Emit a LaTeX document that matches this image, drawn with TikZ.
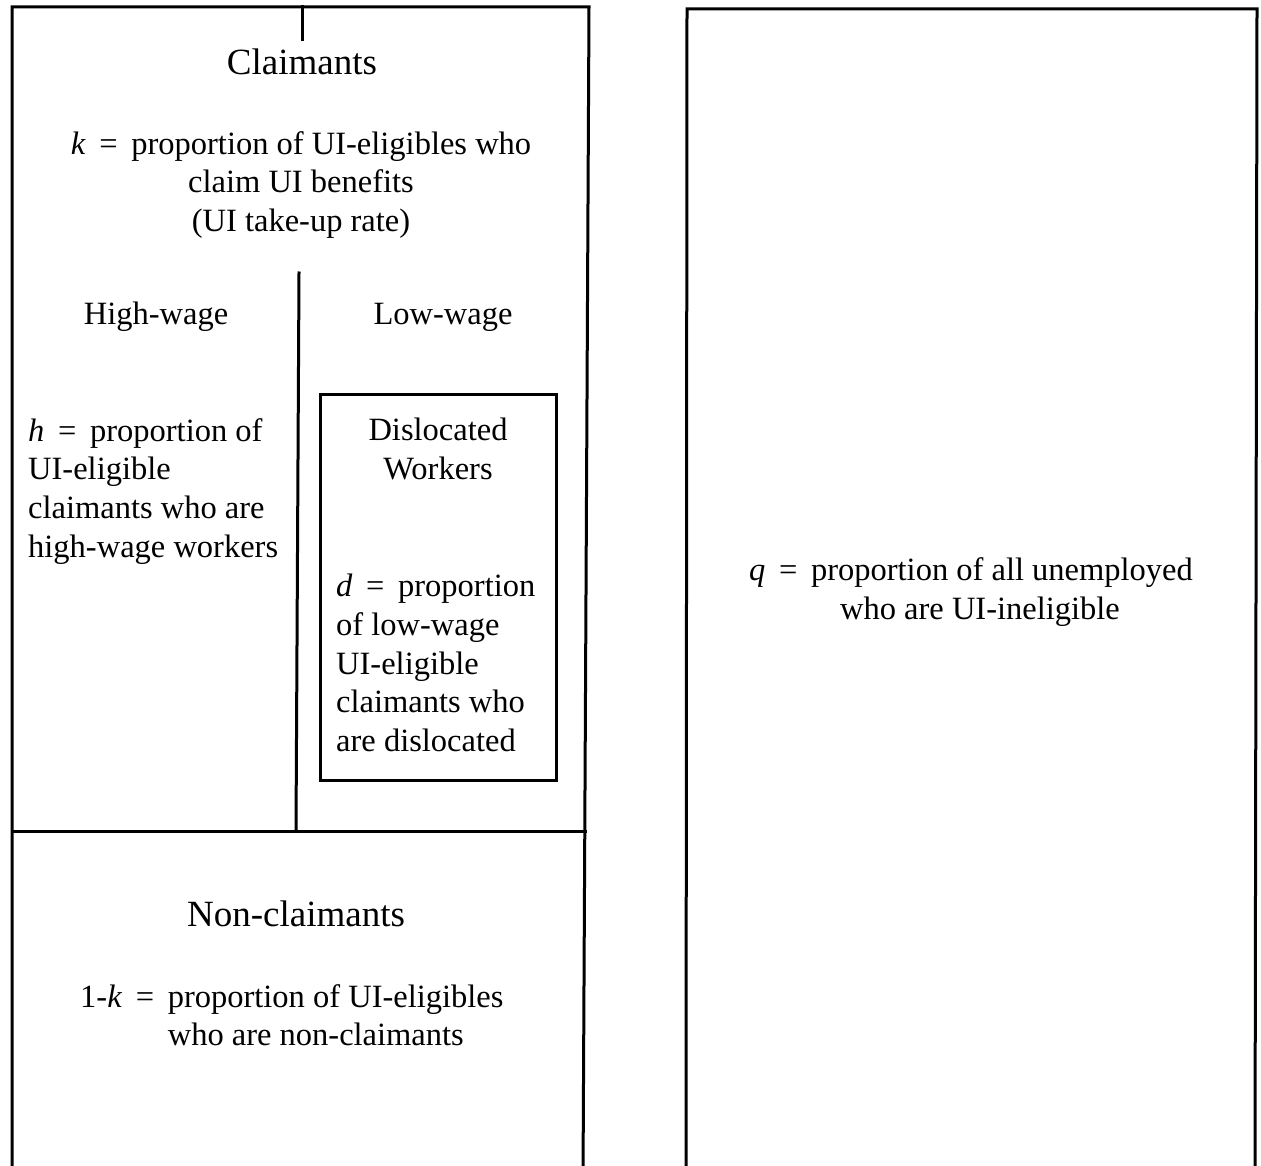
\documentclass[tikz,border=0pt]{standalone}
\usepackage{fontspec}
\setmainfont{Liberation Serif}
\newcommand{\myeq}{\hspace{0.42em}=\hspace{0.42em}}
\begin{document}
\begin{tikzpicture}[x=1pt,y=-1pt,
  frame/.style={line width=3pt,line cap=rect},
  body/.style={font=\fontsize{32.5}{38.7}\selectfont,inner sep=0pt,anchor=base},
  head/.style={font=\fontsize{37}{44}\selectfont,inner sep=0pt,anchor=base}]
\useasboundingbox (0,0) rectangle (1261,1166);
\begin{scope}
\clip (0,0) rectangle (1261,1166);
% left outer box
\draw[frame] (12,1180) -- (12,7) -- (589,7) -- (583,1180);
% tick on top
\draw[frame] (302,7) -- (302,40);
% horizontal divider
\draw[frame] (12,831) -- (585,831);
% vertical divider
\draw[frame] (299,273) -- (296,831);
% dislocated box
\draw[frame] (320,394) rectangle (556,780);
% right box
\draw[frame] (686,1180) -- (687,9) -- (1257,9) -- (1255,1180);
\end{scope}

\node[head] (claim) at (302,75) {Claimants};
\node[body,align=center,anchor=north] (kdef) at (301,131)
  {\textit{k}\myeq proportion of UI-eligibles who\\ claim UI benefits\\ (UI take-up rate)};
\node[body] (hw) at (156,325) {High-wage};
\node[body] (lw) at (443,325) {Low-wage};
\node[body,align=left,anchor=north west] (hdef) at (28,418)
  {\textit{h}\myeq proportion of\\ UI-eligible\\ claimants who are\\ high-wage workers};
\node[body,align=center,anchor=north] (dw) at (438,418) {Dislocated\\ Workers};
\node[body,align=left,anchor=north west] (ddef) at (336,574)
  {\textit{d}\myeq proportion\\ of low-wage\\ UI-eligible\\ claimants who\\ are dislocated};
\node[head] (nonc) at (296,926) {Non-claimants};
\node[body,anchor=north west] (kdef2) at (80,980)
  {\begin{tabular}{@{}l@{\hspace{0.42em}}l@{}}1-\textit{k}\hspace{0.42em}= & proportion of UI-eligibles\\ & who are non-claimants\end{tabular}};
\node[body] (qdef) at (971,580) {\textit{q}\myeq proportion of all unemployed};
\node[body] (qdef2) at (980,619) {who are UI-ineligible};
\end{tikzpicture}
\end{document}
